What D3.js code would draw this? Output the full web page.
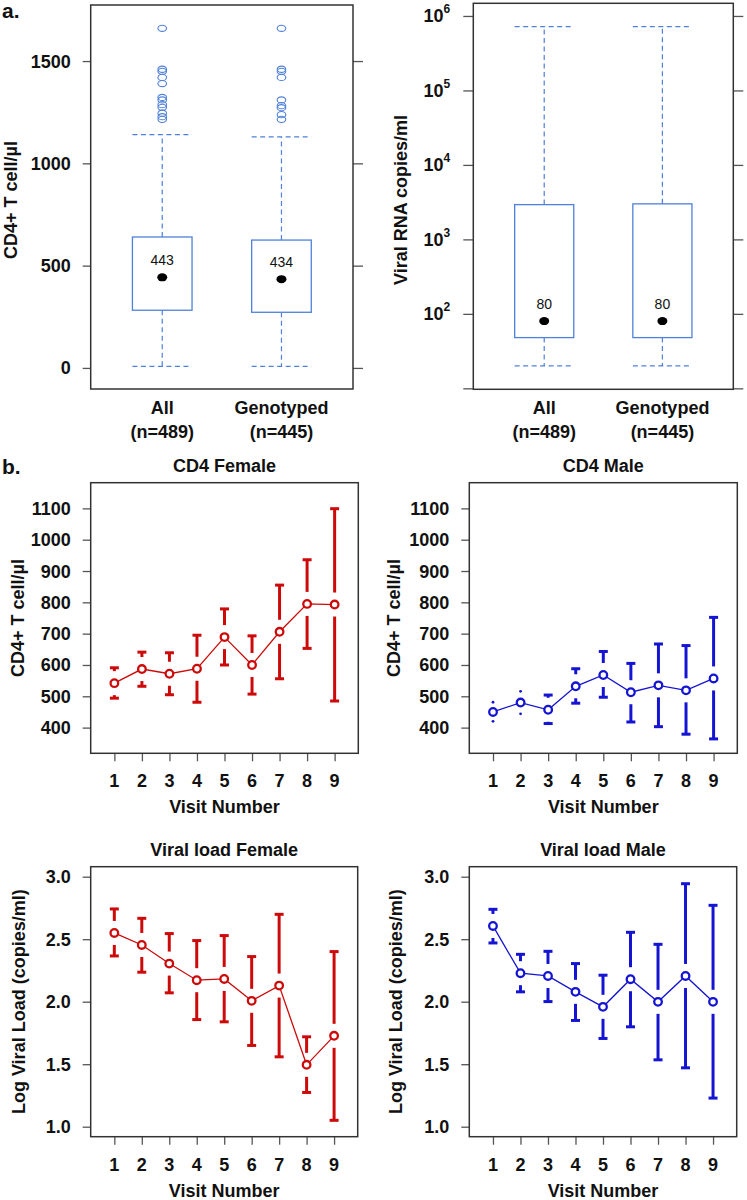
<!DOCTYPE html>
<html><head><meta charset="utf-8">
<script src="https://cdn.jsdelivr.net/npm/d3@7"></script>
<style>body{margin:0;background:#fff} text{font-family:"Liberation Sans",Arial,sans-serif}</style>
</head><body><svg id="c" width="747" height="1200"></svg>
<script>
// ---------- data ----------
const groups = ["All", "Genotyped"];
const groupN = ["(n=489)", "(n=445)"];

const cd4Q1 = [282, 272];
const cd4Median = [443, 434];
const cd4Q3 = [640, 625];
const cd4WhiskLo = [8, 8];
const cd4WhiskHi = [1140, 1129];
const cd4OutAll = [1660, 1460, 1450, 1420, 1390, 1322, 1310, 1287, 1274, 1245, 1228, 1215];
const cd4OutGeno = [1660, 1460, 1450, 1420, 1310, 1282, 1272, 1238, 1215];
const cd4MedianLabels = ["443", "434"];
const cd4Ticks = [0, 500, 1000, 1500];

const vlQ1 = [48, 48];
const vlMedian = [80, 80];
const vlQ3 = [2930, 3000];
const vlWhiskLo = [20, 20];
const vlWhiskHi = [720000, 720000];
const vlMedianLabels = ["80", "80"];
const vlTicks = [1e1, 1e2, 1e3, 1e4, 1e5, 1e6];
const vlTickExp = ["", "2", "3", "4", "5", "6"];

const visits = [1, 2, 3, 4, 5, 6, 7, 8, 9];

const cd4FemaleMean = [542, 587, 572, 588, 689, 600, 706, 795, 793];
const cd4FemaleHi = [591, 641, 639, 695, 779, 693, 855, 936, 1099];
const cd4FemaleLo = [494, 532, 505, 481, 600, 507, 556, 653, 485];

const cd4MaleMean = [450, 480, 457, 532, 568, 513, 535, 519, 557];
const cd4MaleHi = [481, 516, 504, 588, 643, 605, 667, 662, 752];
const cd4MaleLo = [420, 444, 413, 478, 497, 418, 403, 379, 364];

const vlFemaleMean = [2.55, 2.454, 2.305, 2.172, 2.182, 2.007, 2.129, 1.495, 1.727];
const vlFemaleHi = [2.742, 2.667, 2.545, 2.489, 2.529, 2.361, 2.699, 1.719, 2.401];
const vlFemaleLo = [2.366, 2.236, 2.071, 1.857, 1.839, 1.650, 1.559, 1.274, 1.051];

const vlMaleMean = [2.606, 2.228, 2.206, 2.079, 1.959, 2.180, 1.999, 2.206, 1.999];
const vlMaleHi = [2.739, 2.379, 2.403, 2.305, 2.212, 2.555, 2.459, 2.944, 2.771];
const vlMaleLo = [2.470, 2.079, 2.001, 1.850, 1.706, 1.799, 1.535, 1.471, 1.229];

const cd4LineTicks = [400, 500, 600, 700, 800, 900, 1000, 1100];
const vlLineTicks = [1.0, 1.5, 2.0, 2.5, 3.0];

// ---------- styles ----------
const BOXCOL = "#4f80da";
const RED = "#cc0a0a";
const BLUE = "#1414d2";
const FRAME = "#333";
const TICK = "#555";
const TICKFS = 18;

const svg = d3.select("#c");

function frame(g, l, r, t, b) {
  g.append("rect").attr("x", l).attr("y", t).attr("width", r - l).attr("height", b - t)
    .attr("fill", "none").attr("stroke", FRAME).attr("stroke-width", 1.5);
}
function tickMarks(a) {
  a.select(".domain").remove();
  a.selectAll(".tick line").attr("stroke", TICK).attr("stroke-width", 1.3);
  a.selectAll(".tick text").remove();
}
function yLabels(g, y, ticks, fmt, xRight) {
  g.selectAll(null).data(ticks).enter().append("text")
    .attr("x", xRight).attr("y", d => y(d)).attr("dy", "0.36em")
    .attr("text-anchor", "end")
    .attr("font-size", TICKFS).attr("font-weight", "bold").attr("fill", "#111")
    .text(fmt);
}
function yTitle(g, txt, x, y) {
  g.append("text").attr("transform", `translate(${x},${y}) rotate(-90)`)
    .attr("text-anchor", "middle").attr("dominant-baseline", "central")
    .attr("font-size", 18).attr("font-weight", "bold").attr("fill", "#111").text(txt);
}
function boldText(g, txt, x, y, size) {
  g.append("text").attr("x", x).attr("y", y).attr("text-anchor", "middle")
    .attr("font-size", size).attr("font-weight", "bold").attr("fill", "#111").text(txt);
}

// ---------- box panel ----------
function boxPanel(o) {
  const g = svg.append("g");
  const x = d3.scalePoint().domain(groups).range([o.left, o.right]).padding(0.6);
  const bw = x.step() * 0.5;
  const y = o.y;
  const ax = g.append("g").attr("transform", `translate(${o.left},0)`)
    .call(d3.axisLeft(y).tickValues(o.ticks).tickSize(o.tickL));
  tickMarks(ax);
  const axr = g.append("g").attr("transform", `translate(${o.right},0)`)
    .call(d3.axisRight(y).tickValues(o.ticks).tickSize(10));
  tickMarks(axr);
  if (o.exps) {
    o.ticks.forEach((t, i) => {
      if (o.exps[i] === "") return;
      const tx = g.append("text").attr("x", o.left - 23).attr("y", y(t)).attr("dy", "0.36em")
        .attr("text-anchor", "end").attr("font-size", TICKFS).attr("font-weight", "bold").attr("fill", "#111");
      tx.append("tspan").text("10");
      tx.append("tspan").attr("font-size", 12).attr("dy", "-0.75em").text(o.exps[i]);
    });
  } else {
    yLabels(g, y, o.ticks, d => d, o.left - 20);
  }
  frame(g, o.left, o.right, o.top, o.bottom);

  groups.forEach((grp, i) => {
    const cx = x(grp);
    const dash = "5,3.5";
    g.append("line").attr("x1", cx).attr("x2", cx).attr("y1", y(o.q3[i])).attr("y2", y(o.hi[i]))
      .attr("stroke", BOXCOL).attr("stroke-width", 1.2).attr("stroke-dasharray", dash);
    g.append("line").attr("x1", cx).attr("x2", cx).attr("y1", y(o.q1[i])).attr("y2", y(o.lo[i]))
      .attr("stroke", BOXCOL).attr("stroke-width", 1.2).attr("stroke-dasharray", dash);
    [o.hi[i], o.lo[i]].forEach(v => {
      g.append("line").attr("x1", cx - bw / 2).attr("x2", cx + bw / 2).attr("y1", y(v)).attr("y2", y(v))
        .attr("stroke", BOXCOL).attr("stroke-width", 1.2).attr("stroke-dasharray", dash);
    });
    g.append("rect").attr("x", cx - bw / 2).attr("width", bw)
      .attr("y", y(o.q3[i])).attr("height", y(o.q1[i]) - y(o.q3[i]))
      .attr("fill", "#fff").attr("stroke", BOXCOL).attr("stroke-width", 1.3);
    g.append("ellipse").attr("cx", cx).attr("cy", y(o.med[i])).attr("rx", 5).attr("ry", 4).attr("fill", "#000");
    g.append("text").attr("x", cx).attr("y", y(o.med[i]) - 12.5).attr("text-anchor", "middle")
      .attr("font-size", 14).attr("fill", "#111").text(o.medLabels[i]);
    (o.out ? o.out[i] : []).forEach(v => {
      g.append("ellipse").attr("cx", cx).attr("cy", y(v)).attr("rx", 4.3).attr("ry", 3.1)
        .attr("fill", "none").attr("stroke", BOXCOL).attr("stroke-width", 1.1);
    });
    boldText(g, grp, cx, 414, 18);
    boldText(g, groupN[i], cx, 438, 18);
  });
  yTitle(g, o.title, o.titleX, 200);
}

boxPanel({
  left: 90.7, right: 353, top: 5, bottom: 389,
  y: d3.scaleLinear().domain([-103, 1774]).range([389, 5]),
  ticks: cd4Ticks, tickL: 8,
  q1: cd4Q1, med: cd4Median, q3: cd4Q3, lo: cd4WhiskLo, hi: cd4WhiskHi,
  out: [cd4OutAll, cd4OutGeno], medLabels: cd4MedianLabels,
  title: "CD4+ T cell/\u00b5l", titleX: 11
});
boxPanel({
  left: 473.3, right: 733.3, top: 3.3, bottom: 389.3,
  y: d3.scaleLog().domain([Math.pow(10, 0.987), Math.pow(10, 6.17)]).range([389.3, 3.3]),
  ticks: vlTicks, tickL: 10, exps: vlTickExp,
  q1: vlQ1, med: vlMedian, q3: vlQ3, lo: vlWhiskLo, hi: vlWhiskHi,
  medLabels: vlMedianLabels,
  title: "Viral RNA copies/ml", titleX: 401
});

// ---------- line panels ----------
function linePanel(o) {
  const g = svg.append("g");
  const x = d3.scaleLinear().domain([0.14, 9.86]).range([o.left, o.right]);
  const y = d3.scaleLinear().domain(o.yDomain).range([o.bottom, o.top]);
  const ay = g.append("g").attr("transform", `translate(${o.left},0)`)
    .call(d3.axisLeft(y).tickValues(o.ticks).tickSize(8));
  tickMarks(ay);
  yLabels(g, y, o.ticks, o.fmt, o.left - 20);
  const ax = g.append("g").attr("transform", `translate(0,${o.bottom})`)
    .call(d3.axisBottom(x).tickValues(visits).tickSize(8));
  tickMarks(ax);
  g.selectAll(null).data(visits).enter().append("text")
    .attr("x", d => x(d)).attr("y", o.bottom + 34).attr("text-anchor", "middle")
    .attr("font-size", TICKFS).attr("font-weight", "bold").attr("fill", "#111").text(d => d);
  frame(g, o.left, o.right, o.top, o.bottom);

  const gap = 12, cap = 4.5;
  visits.forEach((v, i) => {
    const cx = x(v), cy = y(o.mean[i]);
    [[o.hi[i], -1], [o.lo[i], 1]].forEach(([val, s]) => {
      const ye = y(val);
      const d = Math.abs(cy - ye);
      if (d > gap) {
        g.append("line").attr("x1", cx).attr("x2", cx).attr("y1", ye).attr("y2", cy + s * gap)
          .attr("stroke", o.color).attr("stroke-width", 3);
        g.append("line").attr("x1", cx - cap).attr("x2", cx + cap).attr("y1", ye).attr("y2", ye)
          .attr("stroke", o.color).attr("stroke-width", 3);
      } else {
        g.append("circle").attr("cx", cx).attr("cy", ye).attr("r", 1.4).attr("fill", o.color);
      }
    });
  });
  const line = d3.line().x((d, i) => x(visits[i])).y(d => y(d));
  g.append("path").attr("d", line(o.mean)).attr("fill", "none").attr("stroke", o.color).attr("stroke-width", 1.3);
  visits.forEach((v, i) => {
    g.append("circle").attr("cx", x(v)).attr("cy", y(o.mean[i])).attr("r", 3.8)
      .attr("fill", "#fff").attr("stroke", o.color).attr("stroke-width", 2.3);
  });
  const mid = (o.left + o.right) / 2;
  boldText(g, o.title, mid, o.top - 11, 18);
  boldText(g, "Visit Number", mid, o.bottom + 60, 18);
  yTitle(g, o.ytitle, o.ytitleX, (o.top + o.bottom) / 2);
}

linePanel({ left: 90.7, right: 358.3, top: 482.7, bottom: 753.3, yDomain: [318, 1182],
  ticks: cd4LineTicks, fmt: d3.format("d"), mean: cd4FemaleMean, hi: cd4FemaleHi, lo: cd4FemaleLo,
  color: RED, title: "CD4 Female", ytitle: "CD4+ T cell/\u00b5l", ytitleX: 17.5 });
linePanel({ left: 469.3, right: 737.3, top: 482.7, bottom: 753.3, yDomain: [318, 1182],
  ticks: cd4LineTicks, fmt: d3.format("d"), mean: cd4MaleMean, hi: cd4MaleHi, lo: cd4MaleLo,
  color: BLUE, title: "CD4 Male", ytitle: "CD4+ T cell/\u00b5l", ytitleX: 394 });
linePanel({ left: 90.7, right: 357.7, top: 866.7, bottom: 1136.7, yDomain: [0.92, 3.08],
  ticks: vlLineTicks, fmt: d3.format(".1f"), mean: vlFemaleMean, hi: vlFemaleHi, lo: vlFemaleLo,
  color: RED, title: "Viral load Female", ytitle: "Log Viral Load (copies/ml)", ytitleX: 18.5 });
linePanel({ left: 469.3, right: 736.7, top: 866.7, bottom: 1136.7, yDomain: [0.92, 3.08],
  ticks: vlLineTicks, fmt: d3.format(".1f"), mean: vlMaleMean, hi: vlMaleHi, lo: vlMaleLo,
  color: BLUE, title: "Viral load Male", ytitle: "Log Viral Load (copies/ml)", ytitleX: 395.5 });

svg.append("text").attr("x", 2).attr("y", 18).attr("font-size", 21).attr("font-weight", "bold").attr("fill", "#111").text("a.");
svg.append("text").attr("x", 2).attr("y", 474).attr("font-size", 21).attr("font-weight", "bold").attr("fill", "#111").text("b.");
</script></body></html>
